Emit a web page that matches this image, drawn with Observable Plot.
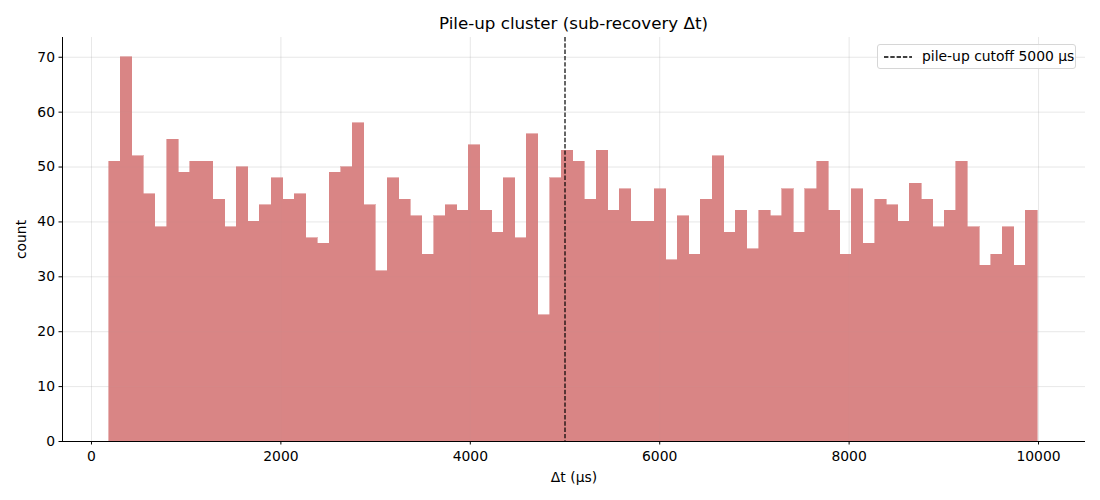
<!DOCTYPE html>
<html>
<head>
<meta charset="utf-8">
<script src="https://cdn.jsdelivr.net/npm/d3@7"></script>
<script src="https://cdn.jsdelivr.net/npm/@observablehq/plot@0.6"></script>
<style>
  body { margin: 0; background: #fff; font-family: "DejaVu Sans", sans-serif; }
  #wrap { position: relative; width: 1100px; height: 500px; }
  #title { position: absolute; left: 62px; width: 1023px; top: 13px; text-align: center; font-size: 16.7px; color: #000; }
  #chart { position: absolute; left: 0; top: 30px; }
  #legend { position: absolute; left: 877px; top: 44px; width: 199px; height: 25px; border: 1px solid #d6d6d6; border-radius: 3px; background: rgba(255,255,255,0.8); font-size: 13.9px; box-sizing: border-box; }
  #legend svg { position: absolute; left: 6px; top: 7px; }
  #legend span { position: absolute; left: 44px; top: 3px; white-space: nowrap; }
</style>
</head>
<body>
<div id="wrap">
  <div id="title">Pile-up cluster (sub-recovery Δt)</div>
  <div id="chart"></div>
  <div id="legend"><svg width="30" height="10"><line x1="0" y1="5" x2="28" y2="5" stroke="#000" stroke-width="1.3" stroke-dasharray="4.4,1.9"/></svg><span>pile-up cutoff 5000 μs</span></div>
</div>
<script>
const binStart = 185;
const binEnd = 9990;
const counts = [51, 70, 52, 45, 39, 55, 49, 51, 51, 44, 39, 50, 40, 43, 48, 44, 45, 37, 36, 49,
  50, 58, 43, 31, 48, 44, 41, 34, 41, 43, 42, 54, 42, 38, 48, 37, 56, 23, 48, 53,
  51, 44, 53, 42, 46, 40, 40, 46, 33, 41, 34, 44, 52, 38, 42, 35, 42, 41, 46, 38,
  46, 51, 42, 34, 46, 36, 44, 43, 40, 47, 44, 39, 42, 51, 39, 32, 34, 39, 32, 42];
const cutoff = 5000;
const xTicks = [0, 2000, 4000, 6000, 8000, 10000];
const yTicks = [0, 10, 20, 30, 40, 50, 60, 70];

const w = (binEnd - binStart) / counts.length;
const bins = counts.map((c, i) => ({x1: binStart + i * w, x2: binStart + (i + 1) * w, y: c}));

const plot = Plot.plot({
  width: 1100,
  height: 470,
  marginLeft: 62,
  marginRight: 15,
  marginTop: 7,
  marginBottom: 59,
  style: {fontFamily: "DejaVu Sans, sans-serif", fontSize: "13.9px", color: "#000", background: "transparent"},
  x: {domain: [-306, 10496], label: null},
  y: {domain: [0, 73.6], label: null},
  marks: [
    Plot.gridX(xTicks, {stroke: "#b0b0b0", strokeOpacity: 0.3, strokeWidth: 0.8}),
    Plot.gridY(yTicks, {stroke: "#b0b0b0", strokeOpacity: 0.3, strokeWidth: 0.8}),
    Plot.rectY(bins, {x1: "x1", x2: "x2", y: "y", fill: "#d98585", stroke: "#d98585", strokeWidth: 0.6, inset: 0, shapeRendering: "crispEdges"}),
    Plot.gridX(xTicks, {stroke: "#b0b0b0", strokeOpacity: 0.08, strokeWidth: 0.8}),
    Plot.gridY(yTicks, {stroke: "#b0b0b0", strokeOpacity: 0.08, strokeWidth: 0.8}),
    Plot.ruleX([cutoff], {stroke: "#000", strokeWidth: 1.2, strokeDasharray: "4.4,1.9"}),
    Plot.axisX(xTicks, {tickSize: 3.5, tickPadding: 6, fontSize: 13.9, tickFormat: d => String(d), label: "Δt (μs)", labelAnchor: "center", labelArrow: "none", labelOffset: 40}),
    Plot.axisY(yTicks, {tickSize: 3.5, tickPadding: 4, fontSize: 13.9, label: "count", labelAnchor: "center", labelArrow: "none", labelOffset: 46}),
    Plot.ruleX([-306], {stroke: "#000", strokeWidth: 1}),
    Plot.ruleY([0], {stroke: "#000", strokeWidth: 1})
  ]
});
document.getElementById("chart").appendChild(plot);
</script>
</body>
</html>
